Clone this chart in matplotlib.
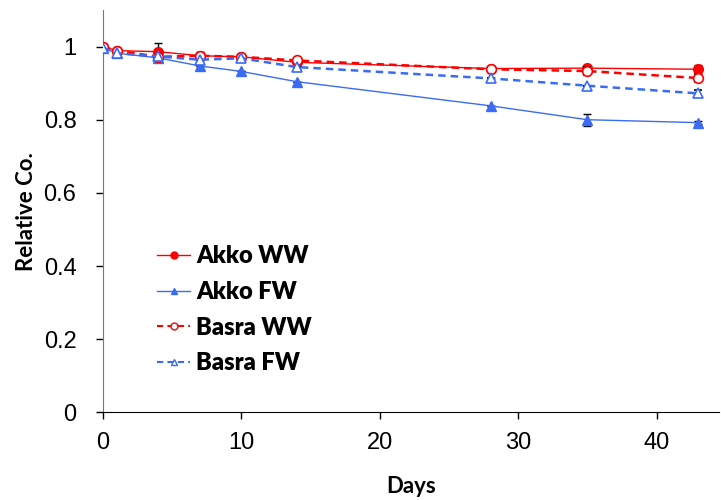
import matplotlib
matplotlib.use("Agg")
import matplotlib.pyplot as plt
from matplotlib.lines import Line2D

# data
days = [0, 1, 4, 7, 10, 14, 28, 35, 43]
akko_ww = [1.0, 0.989, 0.986, 0.975, 0.972, 0.957, 0.940, 0.941, 0.938]
akko_fw = [0.997, 0.982, 0.969, 0.947, 0.932, 0.904, 0.838, 0.800, 0.792]
basra_ww = [1.0, 0.989, 0.972, 0.975, 0.972, 0.962, 0.938, 0.933, 0.914]
basra_fw = [0.997, 0.982, 0.973, 0.964, 0.968, 0.944, 0.913, 0.893, 0.872]
akko_ww_err = [0, 0, 0.025, 0.011, 0, 0.004, 0, 0, 0.012]
akko_fw_err = [0, 0, 0, 0, 0, 0, 0, 0.017, 0.005]
basra_ww_err = [0, 0, 0, 0, 0, 0, 0, 0.01, 0.012]
basra_fw_err = [0, 0, 0, 0, 0, 0, 0, 0, 0.008]

red = "#FF0000"
blue = "#3A6BF5"
dash = (0, (3, 2))

fig = plt.figure(figsize=(7.21, 5.0), dpi=100)
ax = fig.add_axes([0.1427, 0.1754, 0.8545, 0.8046])

ebkw = dict(ecolor="black", elinewidth=1, capsize=3, capthick=1)

ax.errorbar(days, akko_ww, yerr=akko_ww_err, color=red, lw=1, marker="o",
            ms=7, mfc=red, mec=red, zorder=3, **ebkw)
ax.errorbar(days, akko_fw, yerr=akko_fw_err, color=blue, lw=1, marker="^",
            ms=7, mfc=blue, mec=blue, zorder=3, **ebkw)
ax.errorbar(days, basra_ww, yerr=basra_ww_err, color=red, lw=1.8, ls=dash,
            marker="o", ms=7, mfc="white", mec=red, mew=1.2, zorder=4, **ebkw)
ax.errorbar(days, basra_fw, yerr=basra_fw_err, color=blue, lw=1.8, ls=dash,
            marker="^", ms=7, mfc="white", mec=blue, mew=1.2, zorder=4, **ebkw)

ax.set_xlim(0, 44.5)
ax.set_ylim(0, 1.1)
ax.set_xticks([0, 10, 20, 30, 40])
ax.set_yticks([0, 0.2, 0.4, 0.6, 0.8, 1.0])
ax.set_yticklabels(["0", "0.2", "0.4", "0.6", "0.8", "1"])

for s in ["top", "right"]:
    ax.spines[s].set_visible(False)
ax.spines["left"].set_color("#777777")
ax.spines["bottom"].set_color("black")

ax.tick_params(axis="both", direction="out", length=5, width=1,
               labelsize=17, labelfontfamily="Liberation Sans")
ax.tick_params(axis="x", pad=9)
ax.tick_params(axis="y", pad=14)

ax.set_xlabel("Days", fontsize=16, fontweight="bold", family="Lato", labelpad=16)
ax.set_ylabel("Relative Co.", fontsize=16, fontweight="bold", family="Lato", labelpad=5)

handles = [
    Line2D([], [], color=red, lw=1, marker="o", ms=5, mfc=red, mec=red),
    Line2D([], [], color=blue, lw=1, marker="^", ms=5, mfc=blue, mec=blue),
    Line2D([], [], color=red, lw=1.5, ls=dash, marker="o", ms=5, mfc="white", mec=red),
    Line2D([], [], color=blue, lw=1.5, ls=dash, marker="^", ms=5, mfc="white", mec=blue),
]
labels = ["Akko WW", "Akko FW", "Basra WW", "Basra FW"]
ax.legend(handles, labels, loc="upper left", bbox_to_anchor=(0.088, 0.415),
          frameon=False, borderpad=0, borderaxespad=0,
          prop=dict(family="Lato", weight="heavy", size=17),
          handlelength=1.4, handletextpad=0.25, labelspacing=0.58)

fig.savefig("out.png", dpi=100)
